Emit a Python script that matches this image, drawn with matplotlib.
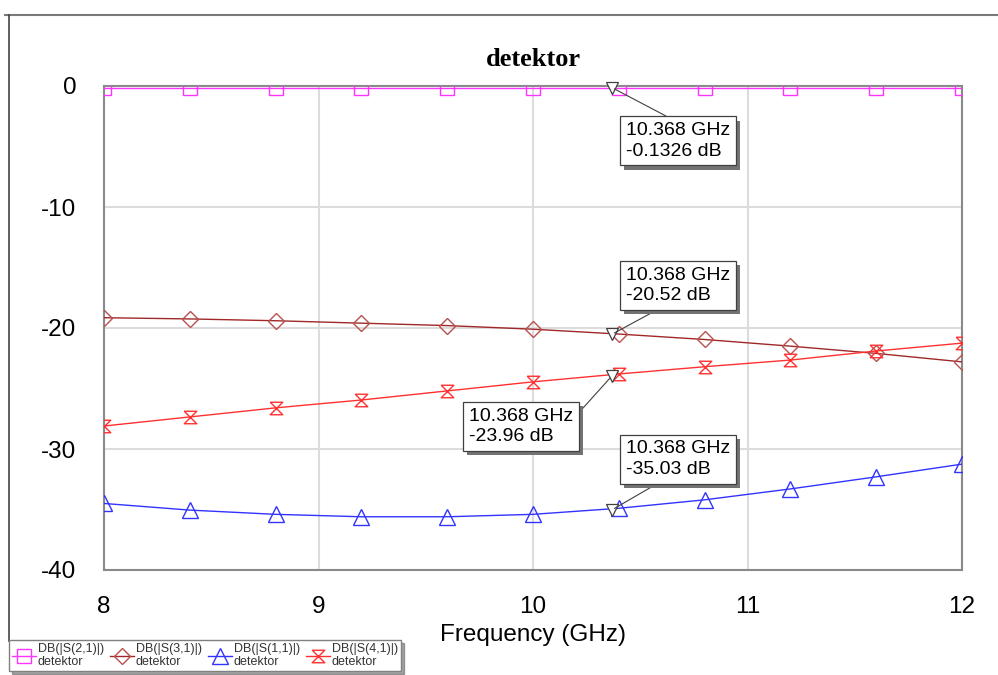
import matplotlib as mpl
mpl.use("Agg")
import matplotlib.pyplot as plt
import matplotlib.patheffects as pe
from matplotlib.lines import Line2D
from matplotlib.path import Path

mpl.rcParams.update({
    "font.family": "sans-serif",
    "font.sans-serif": ["Liberation Sans", "DejaVu Sans"],
    "axes.unicode_minus": False,
})

# ── Data ─────────────────────────────────────────────────────────────
freq = [8.0, 8.4, 8.8, 9.2, 9.6, 10.0, 10.4, 10.8, 11.2, 11.6, 12.0]

s21 = [-0.13, -0.13, -0.13, -0.13, -0.13, -0.13, -0.13, -0.13, -0.13, -0.13, -0.13]
s31 = [-19.15, -19.25, -19.4, -19.6, -19.8, -20.1, -20.5, -20.95, -21.5, -22.1, -22.8]
s11 = [-34.5, -35.05, -35.4, -35.6, -35.6, -35.4, -34.9, -34.2, -33.3, -32.3, -31.25]
s41 = [-28.1, -27.35, -26.6, -25.95, -25.2, -24.45, -23.8, -23.2, -22.65, -21.9, -21.25]

marker_freq = 10.368
marker_vals = {"s21": -0.1326, "s31": -20.52, "s41": -23.96, "s11": -35.03}

labels = ["DB(|S(2,1)|)\ndetektor", "DB(|S(3,1)|)\ndetektor",
          "DB(|S(1,1)|)\ndetektor", "DB(|S(4,1)|)\ndetektor"]

# hourglass marker
hourglass = Path([(-1, 1), (1, 1), (-1, -1), (1, -1), (-1, 1)])

W, H = 998, 675
fig = plt.figure(figsize=(W / 100, H / 100), dpi=100)
ax = fig.add_axes([104 / W, 1 - 570 / H, 858 / W, 484 / H])

styles = {
    "s21": dict(color="#ff33ff", marker="s", ms=9.5, mec="#ff33ff"),
    "s31": dict(color="#a02828", marker="D", ms=8, mec="#b85050"),
    "s11": dict(color="#3333ff", marker="^", ms=11, mec="#3333ff"),
    "s41": dict(color="#ff3030", marker=hourglass, ms=9, mec="#ff3030"),
}
series = {"s21": s21, "s31": s31, "s11": s11, "s41": s41}

handles = []
for key in ["s21", "s31", "s11", "s41"]:
    st = styles[key]
    ln, = ax.plot(freq, series[key], color=st["color"], lw=1.0,
                  marker=st["marker"], ms=st["ms"], mfc="none",
                  mec=st["mec"], mew=1.0, zorder=3)
    handles.append(ln)

# markers at 10.368 GHz
for key, v in marker_vals.items():
    ax.plot([marker_freq], [v], marker="v", ms=9, mfc="white",
            mec="#404040", mew=0.9, zorder=5, clip_on=False)

# annotation boxes (offset in points, relpos where leader meets the box)
ann = [
    ("s21", (10, -25), (0.5, 1.0)),
    ("s31", (10, 48.5), (0.4, 0.0)),
    ("s41", (-103, -23), (1.0, 0.7)),
    ("s11", (10, 50), (0.4, 0.0)),
]
for key, off, rel in ann:
    v = marker_vals[key]
    t = ax.annotate(f"{marker_freq:.3f} GHz\n{v:g} dB", xy=(marker_freq, v),
                    xytext=off, textcoords="offset points", ha="left", va="top",
                    fontsize=14, linespacing=1.25, zorder=6,
                    bbox=dict(boxstyle="square,pad=0.3", fc="white",
                              ec="#404040", lw=0.9),
                    arrowprops=dict(arrowstyle="-", color="#404040", lw=0.8,
                                    relpos=rel, shrinkA=0, shrinkB=2))
    t.get_bbox_patch().set_path_effects([
        pe.SimplePatchShadow(offset=(3, -3), shadow_rgbFace="0.45", alpha=1),
        pe.Normal()])

ax.set_xlim(8, 12)
ax.set_ylim(-40, 0)
ax.set_xticks([8, 9, 10, 11, 12])
ax.set_yticks([0, -10, -20, -30, -40])
ax.tick_params(length=0, labelsize=17.5)
ax.tick_params(axis="y", pad=20)
ax.tick_params(axis="x", pad=19)
ax.grid(True, color="#dcdcdc", lw=1.5, zorder=0)
for s in ax.spines.values():
    s.set_color("#8a8a8a")
    s.set_linewidth(1.5)

ax.set_xlabel("Frequency (GHz)", fontsize=17.5, labelpad=4)
fig.text(533 / W, 1 - 60 / H, "detektor", ha="center", va="center",
         fontsize=19, fontweight="bold", family="Liberation Serif")

# window frame
fig.add_artist(Line2D([5 / W, 1], [1 - 15 / H, 1 - 15 / H], color="#7a7a7a", lw=1.5))
fig.add_artist(Line2D([9 / W, 9 / W], [1 - 15 / H, 1 - 641 / H], color="#444444", lw=1.2))

leg = fig.legend(handles, labels, loc="upper left",
                 bbox_to_anchor=(9 / W, 1 - 640 / H), ncol=4, fontsize=9,
                 frameon=True, fancybox=False, shadow=True, edgecolor="#808080",
                 handlelength=1.9, handletextpad=0.15, columnspacing=0.5,
                 borderpad=0.25, borderaxespad=0, labelspacing=0.2)
leg.get_frame().set_linewidth(1.0)
for t in leg.get_texts():
    t.set_color("#333333")
    t.set_linespacing(1.1)

fig.savefig("out.png", dpi=100)
